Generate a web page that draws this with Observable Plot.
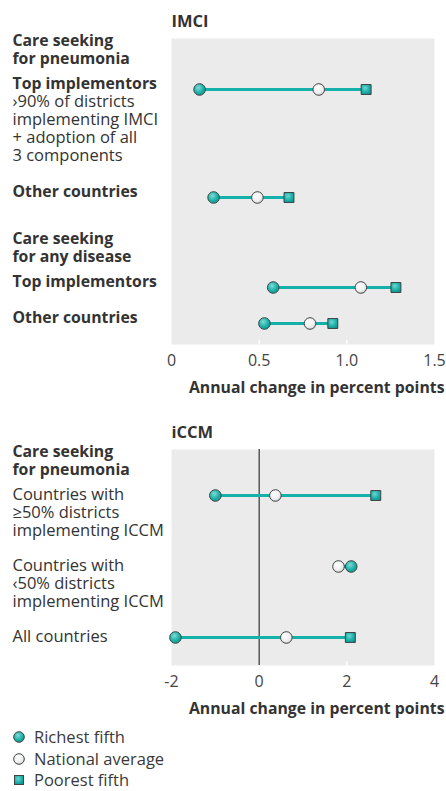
<!DOCTYPE html>
<html>
<head>
<meta charset="utf-8">
<script src="https://cdn.jsdelivr.net/npm/d3@7"></script>
<script src="https://cdn.jsdelivr.net/npm/@observablehq/plot@0.6"></script>
<style>
  html, body { margin: 0; padding: 0; background: #fff; overflow: hidden; }
  body { width: 446px; font-family: "Open Sans", sans-serif; color: #333; }
  #chart svg { display: block; }
  .legend { position: relative; height: 71px; font-size: 16.5px; color: #3a3a3a; }
  .legend .item { position: absolute; left: 11px; height: 16px; line-height: 16px; display: flex; align-items: center; }
  .legend .item svg { width: 16px; height: 16px; margin-right: 7px; }
</style>
</head>
<body>
<svg width="0" height="0" style="position:absolute">
  <defs>
    <radialGradient id="gRich" cx="40%" cy="35%" r="70%">
      <stop offset="0%" stop-color="#7fdcd6"/>
      <stop offset="60%" stop-color="#1cb1aa"/>
      <stop offset="100%" stop-color="#0f9791"/>
    </radialGradient>
    <radialGradient id="gNat" cx="40%" cy="35%" r="70%">
      <stop offset="0%" stop-color="#ffffff"/>
      <stop offset="65%" stop-color="#eeeeee"/>
      <stop offset="100%" stop-color="#c9c9c9"/>
    </radialGradient>
    <radialGradient id="gPoor" cx="40%" cy="35%" r="70%">
      <stop offset="0%" stop-color="#6fd6d0"/>
      <stop offset="60%" stop-color="#1cb1aa"/>
      <stop offset="100%" stop-color="#10948e"/>
    </radialGradient>
  </defs>
</svg>
<div id="chart"></div>
<script>
// ---------- data ----------
const imciTitle = "IMCI";
const imciRows = ["Top implementors (pneumonia)", "Other countries (pneumonia)", "Top implementors (any disease)", "Other countries (any disease)"];
const imciHeadings = ["Care seeking\nfor pneumonia", null, "Care seeking\nfor any disease", null];
const imciLabels = ["Top implementors", "Other countries", "Top implementors", "Other countries"];
const imciSublabels = ["›90% of districts\nimplementing IMCI\n+ adoption of all\n3 components", null, null, null];
const imciRichest = [0.16, 0.24, 0.58, 0.53];
const imciNational = [0.84, 0.49, 1.08, 0.79];
const imciPoorest = [1.11, 0.67, 1.28, 0.92];
const imciTicks = [0, 0.5, 1.0, 1.5];
const imciTickLabels = ["0", "0.5", "1.0", "1.5"];

const iccmTitle = "iCCM";
const iccmRows = ["≥50% districts", "<50% districts", "All countries"];
const iccmHeadings = ["Care seeking\nfor pneumonia", null, null];
const iccmLabels = ["Countries with\n≥50% districts\nimplementing ICCM", "Countries with\n‹50% districts\nimplementing ICCM", "All countries"];
const iccmRichest = [-1.0, 2.1, -1.91];
const iccmNational = [0.37, 1.81, 0.62];
const iccmPoorest = [2.66, null, 2.08];
const iccmTicks = [-2, 0, 2, 4];
const iccmTickLabels = ["-2", "0", "2", "4"];

const xLabel = "Annual change in percent points";
const legendLabels = ["Richest fifth", "National average", "Poorest fifth"];

// ---------- style ----------
const FONT = "'Open Sans', sans-serif";
const FS = 16.5;      // regular text
const FSB = 15.8;     // bold text
const LH = 18 / 16.5; // line height (em) for regular
const LHB = 18 / 15.8;
const TXT = "#333";
const BG = "#ebebeb";
const TEAL = "#14b0aa";
const EDGE = "#3d4444";

function table(rows, headings, labels, sublabels, rich, nat, poor) {
  return rows.map((r, i) => {
    const vals = [rich[i], nat[i], poor[i]].filter(v => v != null);
    return {
      row: r, heading: headings[i], label: labels[i], sub: sublabels ? sublabels[i] : null,
      rich: rich[i], nat: nat[i], poor: poor[i],
      lo: d3.min(vals), hi: d3.max(vals)
    };
  });
}

function panel({data, title, ticks, tickLabels, xDomain, yDomain, yRange, height, marginTop, marginBottom,
                headingDy, labelDy, labelAnchor, labelBold, subDy, zeroRule}) {
  const innerH = height - marginTop - marginBottom;
  const fmt = d => tickLabels[ticks.indexOf(d)];
  const inner = ticks.filter((t, i) => i > 0 && i < ticks.length - 1 && !(zeroRule && t === 0));
  const marks = [
    Plot.frame({fill: BG, stroke: "none"}),
    Plot.ruleX(inner, {stroke: "white", strokeWidth: 1.3, insetTop: innerH - 4}),
  ];
  if (zeroRule) marks.push(Plot.ruleX([0], {stroke: "#333", strokeWidth: 1.2}));
  marks.push(
    Plot.link(data, {x1: "lo", x2: "hi", y1: "row", y2: "row", stroke: TEAL, strokeWidth: 3}),
    Plot.dot(data.filter(d => d.nat != null), {x: "nat", y: "row", r: 5.8, fill: "url(#gNat)", stroke: EDGE, strokeWidth: 1}),
    Plot.dot(data.filter(d => d.poor != null), {x: "poor", y: "row", r: 5.6, symbol: "square", fill: "url(#gPoor)", stroke: EDGE, strokeWidth: 1}),
    Plot.dot(data.filter(d => d.rich != null), {x: "rich", y: "row", r: 5.8, fill: "url(#gRich)", stroke: EDGE, strokeWidth: 1}),
    Plot.axisX(ticks, {tickSize: 0, tickPadding: 10, tickFormat: fmt, fontSize: 16, fill: "#444", label: null}),
    Plot.text([title], {frameAnchor: "top-left", dy: -17, textAnchor: "start", lineAnchor: "middle", fontSize: 16.5, fontWeight: "bold", fill: TXT}),
    Plot.text([xLabel], {frameAnchor: "bottom-right", dx: 10, dy: 43, textAnchor: "end", lineAnchor: "middle", fontSize: FSB, fontWeight: "bold", fill: TXT}),
    Plot.text(data.filter(d => d.heading), {y: "row", text: "heading", frameAnchor: "left", dx: -159, dy: headingDy, textAnchor: "start", lineAnchor: "middle", lineHeight: LHB, fontSize: FSB, fontWeight: "bold", fill: TXT}),
    Plot.text(data, {y: "row", text: "label", frameAnchor: "left", dx: -159, dy: labelDy, textAnchor: "start", lineAnchor: labelAnchor,
      lineHeight: labelBold ? LHB : LH, fontSize: labelBold ? FSB : FS, fontWeight: labelBold ? "bold" : "normal", fill: TXT})
  );
  if (subDy != null) {
    marks.push(Plot.text(data.filter(d => d.sub), {y: "row", text: "sub", frameAnchor: "left", dx: -159, dy: subDy, textAnchor: "start", lineAnchor: "middle", lineHeight: LH, fontSize: FS, fill: TXT}));
  }
  return Plot.plot({
    width: 446, height, marginLeft: 171, marginRight: 12, marginTop, marginBottom,
    style: {fontFamily: FONT, color: TXT, background: "white", overflow: "visible"},
    x: {domain: xDomain, axis: null},
    y: {type: "point", domain: yDomain, range: yRange, padding: 0, axis: null},
    marks
  });
}

const imciData = table(imciRows, imciHeadings, imciLabels, imciSublabels, imciRichest, imciNational, imciPoorest);
const iccmData = table(iccmRows, iccmHeadings, iccmLabels, null, iccmRichest, iccmNational, iccmPoorest);

// y slots for IMCI rows (uneven spacing via blank slots)
const imciSlots = [imciRows[0], "_a", "_b", "_c", "_d", "_e", imciRows[1], "_f", "_g", "_h", "_i", imciRows[2], "_j", imciRows[3]];

const topPanel = panel({
  data: imciData, title: imciTitle, ticks: imciTicks, tickLabels: imciTickLabels,
  xDomain: [0, 1.5], yDomain: imciSlots, yRange: [88, 323],
  height: 400, marginTop: 38, marginBottom: 56,
  headingDy: -40, labelDy: -6, labelAnchor: "middle", labelBold: true, subDy: 39, zeroRule: false
});
const bottomPanel = panel({
  data: iccmData, title: iccmTitle, ticks: iccmTicks, tickLabels: iccmTickLabels,
  xDomain: [-2, 4], yDomain: iccmRows, yRange: [94, 237],
  height: 320, marginTop: 49, marginBottom: 55,
  headingDy: -35, labelDy: -8, labelAnchor: "top", labelBold: false, subDy: null, zeroRule: true
});

const chart = document.getElementById("chart");
chart.appendChild(topPanel);
chart.appendChild(bottomPanel);

// legend
const legend = document.createElement("div");
legend.className = "legend";
const fills = ["url(#gRich)", "url(#gNat)", "url(#gPoor)"];
legendLabels.forEach((lab, i) => {
  const item = document.createElement("div");
  item.className = "item";
  item.style.top = (9 + i * 21.5) + "px";
  const shape = i === 2
    ? `<rect x="3.5" y="3.5" width="9" height="9" fill="${fills[i]}" stroke="${EDGE}" stroke-width="1"/>`
    : `<circle cx="8" cy="8" r="5.3" fill="${fills[i]}" stroke="${EDGE}" stroke-width="1"/>`;
  item.innerHTML = `<svg viewBox="0 0 16 16">${shape}</svg><span>${lab}</span>`;
  legend.appendChild(item);
});
chart.appendChild(legend);
</script>
</body>
</html>
